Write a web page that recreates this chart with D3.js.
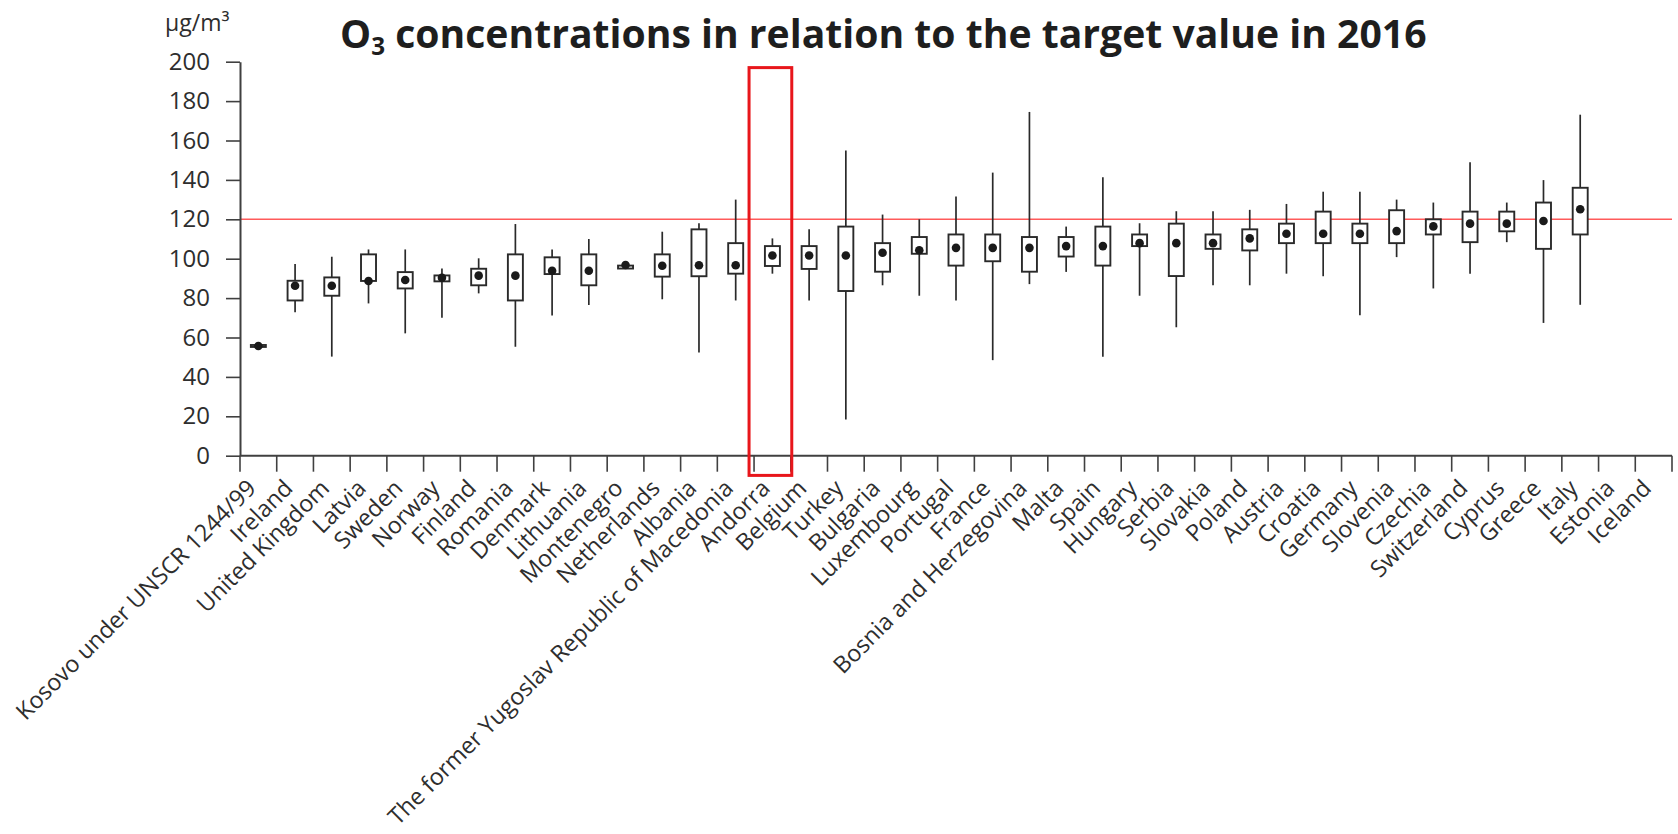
<!DOCTYPE html>
<html>
<head>
<meta charset="utf-8">
<script src="https://cdn.jsdelivr.net/npm/d3@7"></script>
<style>
  html, body { margin: 0; padding: 0; background: #fff; }
  svg { display: block; font-family: "Open Sans", "DejaVu Sans", sans-serif; }
</style>
</head>
<body>
<svg id="chart" width="1678" height="834"></svg>
<script>
// ---------- data ----------
const categories = [
  "Kosovo under UNSCR 1244/99", "Ireland", "United Kingdom", "Latvia", "Sweden", "Norway",
  "Finland", "Romania", "Denmark", "Lithuania", "Montenegro", "Netherlands", "Albania",
  "The former Yugoslav Republic of Macedonia", "Andorra", "Belgium", "Turkey", "Bulgaria",
  "Luxembourg", "Portugal", "France", "Bosnia and Herzegovina", "Malta", "Spain", "Hungary",
  "Serbia", "Slovakia", "Poland", "Austria", "Croatia", "Germany", "Slovenia", "Czechia",
  "Switzerland", "Cyprus", "Greece", "Italy", "Estonia", "Iceland"
];
const minValues = [55.2, 72.8, 50.3, 77.3, 62.1, 70, 82.4, 55.3, 71.2, 76.5, 95, 79.4, 52.4,
  78.8, 92.4, 78.8, 18.4, 86.5, 81.2, 78.8, 48.5, 87.1, 93.3, 50.2, 81.2, 65.2, 86.5, 86.5,
  92.4, 91.1, 71.3, 100.8, 84.9, 92.4, 108.4, 67.4, 76.6, null, null];
const q1Values = [55.2, 78.8, 81.2, 88.7, 84.9, 88.5, 86.5, 78.8, 92.2, 86.5, 95, 90.9, 91.1,
  92.4, 96.3, 94.8, 83.6, 93.4, 102.5, 96.5, 98.7, 93.4, 101.1, 96.5, 106.4, 91.2, 105, 104.2,
  107.9, 107.9, 107.9, 107.9, 112.3, 108.4, 113.9, 105, 112.3, null, null];
const dotValues = [55.7, 86.3, 86.3, 88.7, 89.2, 90.3, 91.4, 91.4, 93.9, 93.9, 96.8, 96.4, 96.7,
  96.7, 101.6, 101.6, 101.6, 103, 104.3, 105.5, 105.5, 105.5, 106.4, 106.4, 107.9, 107.9, 107.9,
  110.3, 112.7, 112.7, 112.7, 114, 116.4, 117.8, 117.8, 119.1, 125.1, null, null];
const q3Values = [56.2, 88.8, 90.5, 102.2, 93.2, 91.5, 94.9, 102.2, 100.7, 102.2, 96.5, 102.2, 114.9,
  107.9, 106.4, 106.4, 116.3, 107.9, 111, 112.3, 112.3, 111, 111, 116.3, 112.3, 117.8, 112.3,
  114.9, 117.8, 123.9, 117.8, 124.6, 120, 123.9, 123.9, 128.5, 136, null, null];
const maxValues = [56.2, 97.3, 101, 104.7, 104.7, 95, 100.2, 117.6, 104.7, 110, 97.3, 113.7, 118,
  130, 110.3, 114.9, 154.9, 122.4, 120, 131.6, 143.7, 174.5, 116.3, 141.3, 118, 124.1, 124.1,
  124.8, 127.8, 134, 134, 130, 128.5, 148.9, 128.5, 139.9, 173.1, null, null];
const yTicks = [0, 20, 40, 60, 80, 100, 120, 140, 160, 180, 200];
const targetValue = 120;
const highlighted = "Andorra";
const titleMain = "O";
const titleSub = "3";
const titleRest = " concentrations in relation to the target value in 2016";
const unitLabel = "µg/m³";

// ---------- layout ----------
const svg = d3.select("#chart");
const x = d3.scaleBand().domain(categories).range([240, 1672]).paddingInner(0).paddingOuter(0);
const y = d3.scaleLinear().domain([0, 200]).range([455.7, 61.7]);
const textColor = "#2e2e2e";
const axisColor = "#404040";

// title
const title = svg.append("text")
  .attr("x", 340).attr("y", 48)
  .attr("font-weight", 700).attr("font-size", 38).attr("fill", "#1e1e1e");
title.append("tspan").text(titleMain);
title.append("tspan").attr("font-size", "0.62em").attr("dy", "0.28em").text(titleSub);
title.append("tspan").attr("dy", "-0.174em").text(titleRest);
{
  const w = title.node().getBBox().width;
  const fs = 38 * 1087 / w;
  title.attr("font-size", fs);
}

// unit label
svg.append("text").attr("x", 165).attr("y", 31)
  .attr("font-size", 23).attr("fill", textColor).text(unitLabel);

// target line
svg.append("line")
  .attr("x1", x.range()[0]).attr("x2", x.range()[1])
  .attr("y1", y(targetValue)).attr("y2", y(targetValue))
  .attr("stroke", "#ff5a5a").attr("stroke-width", 1.5);

// y axis
const yAxis = svg.append("g")
  .attr("transform", `translate(${x.range()[0]},0)`)
  .call(d3.axisLeft(y).tickValues(yTicks).tickSize(14).tickSizeOuter(0).tickPadding(16));
yAxis.select(".domain").attr("stroke", axisColor).attr("stroke-width", 2);
yAxis.selectAll(".tick line").attr("stroke", axisColor).attr("stroke-width", 1.6);
yAxis.selectAll(".tick text").attr("font-size", 24).attr("fill", textColor)
  .attr("font-family", "'Open Sans', sans-serif");

// x axis
const xAxisG = svg.append("g");
xAxisG.append("line")
  .attr("x1", x.range()[0]).attr("x2", x.range()[1])
  .attr("y1", y(0)).attr("y2", y(0))
  .attr("stroke", axisColor).attr("stroke-width", 2);
const boundaries = categories.map(c => x(c)).concat([x.range()[1]]);
xAxisG.selectAll("line.xt").data(boundaries).join("line")
  .attr("class", "xt")
  .attr("x1", d => d).attr("x2", d => d)
  .attr("y1", y(0)).attr("y2", y(0) + 16)
  .attr("stroke", axisColor).attr("stroke-width", 1.6);
xAxisG.selectAll("text.xl").data(categories).join("text")
  .attr("class", "xl")
  .attr("transform", d => `translate(${x(d) + x.bandwidth() / 2 - 1},${y(0) + 34}) rotate(-45)`)
  .attr("text-anchor", "end")
  .attr("font-size", 23.3).attr("fill", textColor)
  .text(d => d);

// boxes
const rows = categories.map((c, i) => ({
  c, min: minValues[i], q1: q1Values[i], dot: dotValues[i], q3: q3Values[i], max: maxValues[i]
})).filter(d => d.dot !== null);

const boxW = 15;
const g = svg.append("g");
g.selectAll("line.wh").data(rows).join("line")
  .attr("class", "wh")
  .attr("x1", d => x(d.c) + x.bandwidth() / 2).attr("x2", d => x(d.c) + x.bandwidth() / 2)
  .attr("y1", d => y(d.max)).attr("y2", d => y(d.min))
  .attr("stroke", "#2a2a2a").attr("stroke-width", 1.7);
g.selectAll("rect.bx").data(rows).join("rect")
  .attr("class", "bx")
  .attr("x", d => x(d.c) + x.bandwidth() / 2 - boxW / 2)
  .attr("width", boxW)
  .attr("y", d => y(d.q3))
  .attr("height", d => Math.max(y(d.q1) - y(d.q3), 1.5))
  .attr("fill", "#fff").attr("stroke", "#2a2a2a").attr("stroke-width", 1.9);
g.selectAll("circle.dt").data(rows).join("circle")
  .attr("class", "dt")
  .attr("cx", d => x(d.c) + x.bandwidth() / 2)
  .attr("cy", d => y(d.dot))
  .attr("r", 4.3)
  .attr("fill", "#1a1a1a");

// highlight
svg.append("rect")
  .attr("x", x(highlighted) - 5)
  .attr("width", x.bandwidth() + 6)
  .attr("y", y(197))
  .attr("height", y(-10) - y(197))
  .attr("fill", "none").attr("stroke", "#e8161b").attr("stroke-width", 3);
</script>
</body>
</html>
